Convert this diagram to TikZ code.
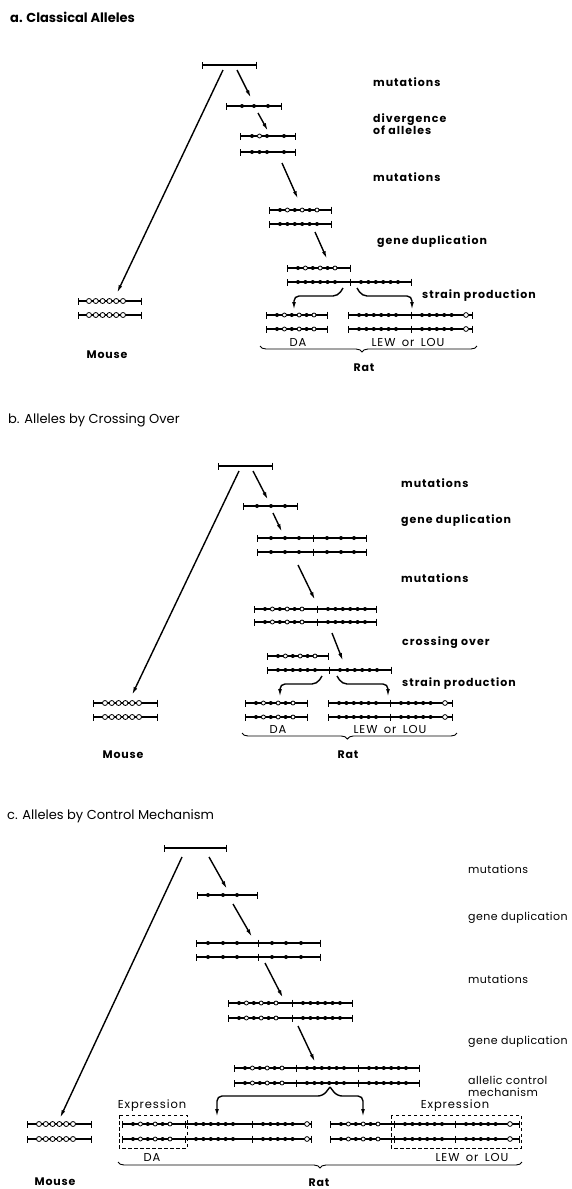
\documentclass[tikz,border=0pt]{standalone}
\usepackage{fontspec}
\setmainfont{Poppins}
\newfontfamily\labfont[LetterSpace=9]{Poppins}
\newfontfamily\labcfont[LetterSpace=4]{Poppins}
\newfontfamily\keyfont[LetterSpace=8,WordSpace=1.6]{Poppins}
\usetikzlibrary{arrows.meta,decorations.pathreplacing}

% gene segment: x1, x2, y
\newcommand{\gene}[3]{\draw[geneline] (#1,#3) -- (#2,#3);}
\newcommand{\gtick}[2]{\draw[line width=1pt] (#1,#2-3.5) -- (#1,#2+3.5);}
\newcommand{\fdots}[2]{\foreach \x in {#2} \fill (\x,#1) circle (2);}
\newcommand{\odots}[2]{\foreach \x in {#2} \draw[odot] (\x,#1) circle (2);}
\newcommand{\altsix}[2]{\foreach \k in {0,...,5}{\ifodd\k \draw[odot] (#2+7.4*\k,#1) circle (2); \else \fill (#2+7.4*\k,#1) circle (2); \fi}}
\newcommand{\fullsix}[2]{\foreach \k in {0,...,5} \fill (#2+7.4*\k,#1) circle (2);}
\newcommand{\lastopen}[2]{\foreach \k in {0,...,4} \fill (#2+7.4*\k,#1) circle (2); \draw[odot] (#2+44,#1) circle (2.4);}
\newcommand{\mouserow}[2]{\foreach \k in {0,...,5} \draw[odot] (#2+6.8*\k,#1) circle (2.5);}

\begin{document}
\begin{tikzpicture}[x=1pt,y=-1pt,
  geneline/.style={line width=1.1pt,{Bar[width=7pt,line width=1.1pt]}-{Bar[width=7pt,line width=1.1pt]}},
  odot/.style={fill=white,line width=0.8pt},
  arr/.style={line width=1.4pt,-{Latex[length=8pt,width=3.8pt]}},
  lab/.style={anchor=west,font=\labfont\fontsize{11}{12}\selectfont\bfseries,inner sep=0pt,align=left},
  labc/.style={anchor=west,font=\labcfont\fontsize{11}{12}\selectfont,inner sep=0pt,align=left},
  title/.style={anchor=west,font=\fontsize{13}{15}\selectfont,inner sep=0pt},
  small/.style={font=\keyfont\fontsize{11.5}{12}\selectfont,inner sep=0pt},
  bsmall/.style={font=\keyfont\fontsize{11}{12}\selectfont\bfseries,inner sep=0pt},
  ratbrace/.style={line width=0.9pt,decorate,decoration={brace,mirror,amplitude=6pt}},
  exprbox/.style={line width=0.9pt,dash pattern=on 3.5pt off 2.5pt}]
\useasboundingbox (0,0) rectangle (572,1189);

% ---------- a. Classical Alleles
\node[title,font=\fontsize{13}{15}\selectfont\bfseries] (ta) at (10,17) {a. Classical Alleles};
\gene{202}{257}{65}
\gene{226}{282}{106} \fdots{106}{242,254,268}
\gene{240}{296}{136} \fdots{136}{252,267,284} \odots{136}{259.5}
\gene{240}{296}{152} \fdots{152}{252,259.5,267,284}
\gene{269}{332}{210} \altsix{210}{280}
\gene{269}{332}{224} \fullsix{224}{280}
\gene{287}{351}{268} \altsix{268}{298}
\gene{287}{412}{282} \gtick{350}{282} \fullsix{282}{298} \fullsix{282}{361}
\foreach \y in {315,329}{
  \gene{266}{328}{\y} \altsix{\y}{277}
  \gene{348}{473}{\y} \gtick{411}{\y} \fullsix{\y}{359} \lastopen{\y}{422}
  \gene{78}{142}{\y-14} \mouserow{\y-14}{89}
}
\coordinate (aM0) at (223,70);  \coordinate (aM1) at (117,293);
\coordinate (aA0) at (237,70);  \coordinate (aA1) at (251,98);
\coordinate (aB0) at (258,113); \coordinate (aB1) at (268,131);
\coordinate (aC0) at (282,163); \coordinate (aC1) at (298,199);
\coordinate (aD0) at (315,232); \coordinate (aD1) at (327,259);
\coordinate (aL0) at (343,288); \coordinate (aL1) at (294,310);
\coordinate (aR0) at (357,288); \coordinate (aR1) at (412,310);
\draw[arr] (aM0) -- (aM1);
\draw[arr] (aA0) -- (aA1);
\draw[arr] (aB0) -- (aB1);
\draw[arr] (aC0) -- (aC1);
\draw[arr] (aD0) -- (aD1);
\draw[arr,rounded corners=5pt] (aL0) -- ++(-5,8) -| (aL1);
\draw[arr,rounded corners=5pt] (aR0) -- ++(5,8) -| (aR1);
\draw[ratbrace,decoration={aspect=0.47}] (260,346) -- (477,346);
\node[lab] (am1) at (373,82) {mutations};
\node[lab] (adv) at (373,124) {divergence\\of alleles};
\node[lab] (am2) at (373,177) {mutations};
\node[lab] (agd) at (377,242) {gene duplication};
\node[lab] (asp) at (422,296) {strain production};
\node[small] (ada) at (298,342) {DA};
\node[small] (alew) at (408,342) {LEW or LOU};
\node[bsmall] (arat) at (364,368) {Rat};
\node[bsmall] (amouse) at (107,355) {Mouse};

% ---------- b. Alleles by Crossing Over
\node[title] (tb) at (8,420) {b. Alleles by Crossing Over};
\gene{218}{273}{466}
\gene{243}{298}{506} \fdots{506}{257,271,285}
\foreach \y in {538,552}{
  \gene{257}{367}{\y} \gtick{313}{\y} \fdots{\y}{271,285,299,327,341,354}}
\foreach \y in {609,622}{
  \gene{254}{377}{\y} \gtick{317}{\y} \altsix{\y}{265} \fullsix{\y}{328}}
\gene{267}{329}{656} \altsix{656}{278}
\gene{267}{392}{670} \gtick{329}{670} \fullsix{670}{278} \fullsix{670}{340}
\foreach \y in {703,717}{
  \gene{245}{308}{\y} \altsix{\y}{256}
  \gene{328}{453}{\y} \gtick{390}{\y} \fullsix{\y}{339} \lastopen{\y}{401}
  \gene{93}{158}{\y} \mouserow{\y}{105}
}
\coordinate (bM0) at (239,471); \coordinate (bM1) at (132,695);
\coordinate (bA0) at (253,471); \coordinate (bA1) at (268,500);
\coordinate (bB0) at (273,513); \coordinate (bB1) at (282,532);
\coordinate (bC0) at (298,565); \coordinate (bC1) at (315,600);
\coordinate (bD0) at (332,633); \coordinate (bD1) at (343,661);
\coordinate (bL0) at (322,676); \coordinate (bL1) at (280,697);
\coordinate (bR0) at (337,676); \coordinate (bR1) at (388,697);
\draw[arr] (bM0) -- (bM1);
\draw[arr] (bA0) -- (bA1);
\draw[arr] (bB0) -- (bB1);
\draw[arr] (bC0) -- (bC1);
\draw[arr] (bD0) -- (bD1);
\draw[arr,rounded corners=5pt] (bL0) -- ++(-5,8) -| (bL1);
\draw[arr,rounded corners=5pt] (bR0) -- ++(5,8) -| (bR1);
\draw[ratbrace,decoration={aspect=0.49}] (242,733) -- (457,733);
\node[lab] (bm1) at (401,483) {mutations};
\node[lab] (bgd) at (401,521) {gene duplication};
\node[lab] (bm2) at (401,578) {mutations};
\node[lab] (bco) at (402,643) {crossing over};
\node[lab] (bsp) at (402,684) {strain production};
\node[small] (bda) at (278,729) {DA};
\node[small] (blew) at (390,729) {LEW or LOU};
\node[bsmall] (brat) at (348,755) {Rat};
\node[bsmall] (bmouse) at (123,755) {Mouse};

% ---------- c. Alleles by Control Mechanism
\node[title] (tc) at (7,816) {c. Alleles by Control Mechanism};
\gene{164}{227}{848}
\gene{197}{258}{895} \fdots{895}{208,223,237}
\foreach \y in {943,957}{
  \gene{196}{321}{\y} \gtick{258}{\y} \fdots{\y}{208,223,237,272,286,301}}
\foreach \y in {1003,1018}{
  \gene{228}{353}{\y} \gtick{292}{\y} \altsix{\y}{239} \fullsix{\y}{303}}
\foreach \y in {1068,1083}{
  \gene{234}{420}{\y} \gtick{296}{\y} \gtick{358}{\y}
  \altsix{\y}{245} \fullsix{\y}{307} \fullsix{\y}{369}}
\foreach \y in {1124,1139}{
  \gene{122}{312}{\y} \gtick{185}{\y} \gtick{252}{\y}
  \altsix{\y}{133} \fullsix{\y}{196} \lastopen{\y}{263}
  \gene{330}{520}{\y} \gtick{394}{\y} \gtick{455}{\y}
  \altsix{\y}{341} \fullsix{\y}{405} \lastopen{\y}{466}
  \gene{27}{92}{\y} \mouserow{\y}{39}
}
\draw[exprbox] (119,1115) rectangle (187,1148);
\draw[exprbox] (391,1115) rectangle (521,1148);
\coordinate (cM0) at (182,857);  \coordinate (cM1) at (60,1118);
\coordinate (cA0) at (209,857);  \coordinate (cA1) at (227,889);
\coordinate (cB0) at (233,904);  \coordinate (cB1) at (252,937);
\coordinate (cC0) at (265,963);  \coordinate (cC1) at (283,998);
\coordinate (cD0) at (298,1026); \coordinate (cD1) at (315,1062);
\coordinate (cK0) at (330,1087); \coordinate (cL1) at (217,1117);
\coordinate (cR1) at (363,1117);
\draw[arr] (cM0) -- (cM1);
\draw[arr] (cA0) -- (cA1);
\draw[arr] (cB0) -- (cB1);
\draw[arr] (cC0) -- (cC1);
\draw[arr] (cD0) -- (cD1);
\draw[arr,rounded corners=5pt] (cK0) -- ++(-7,9) -| (cL1);
\draw[arr,rounded corners=5pt] (cK0) -- ++(7,9) -| (cR1);
\draw[ratbrace,decoration={aspect=0.5}] (118,1162) -- (522,1162);
\node[labc] (cm1) at (468,869) {mutations};
\node[labc] (cgd1) at (468,918) {gene duplication};
\node[labc] (cm2) at (468,979) {mutations};
\node[labc] (cgd2) at (468,1042) {gene duplication};
\node[labc] (cacm) at (468,1086) {allelic control\\mechanism};
\node[small] (cex1) at (152,1106) {Expression};
\node[small] (cex2) at (455,1106) {Expression};
\node[small] (cda) at (152,1157) {DA};
\node[small] (clew) at (472,1157) {LEW or LOU};
\node[bsmall] (crat) at (319,1183) {Rat};
\node[bsmall] (cmouse) at (55,1182) {Mouse};
\end{tikzpicture}
\end{document}
